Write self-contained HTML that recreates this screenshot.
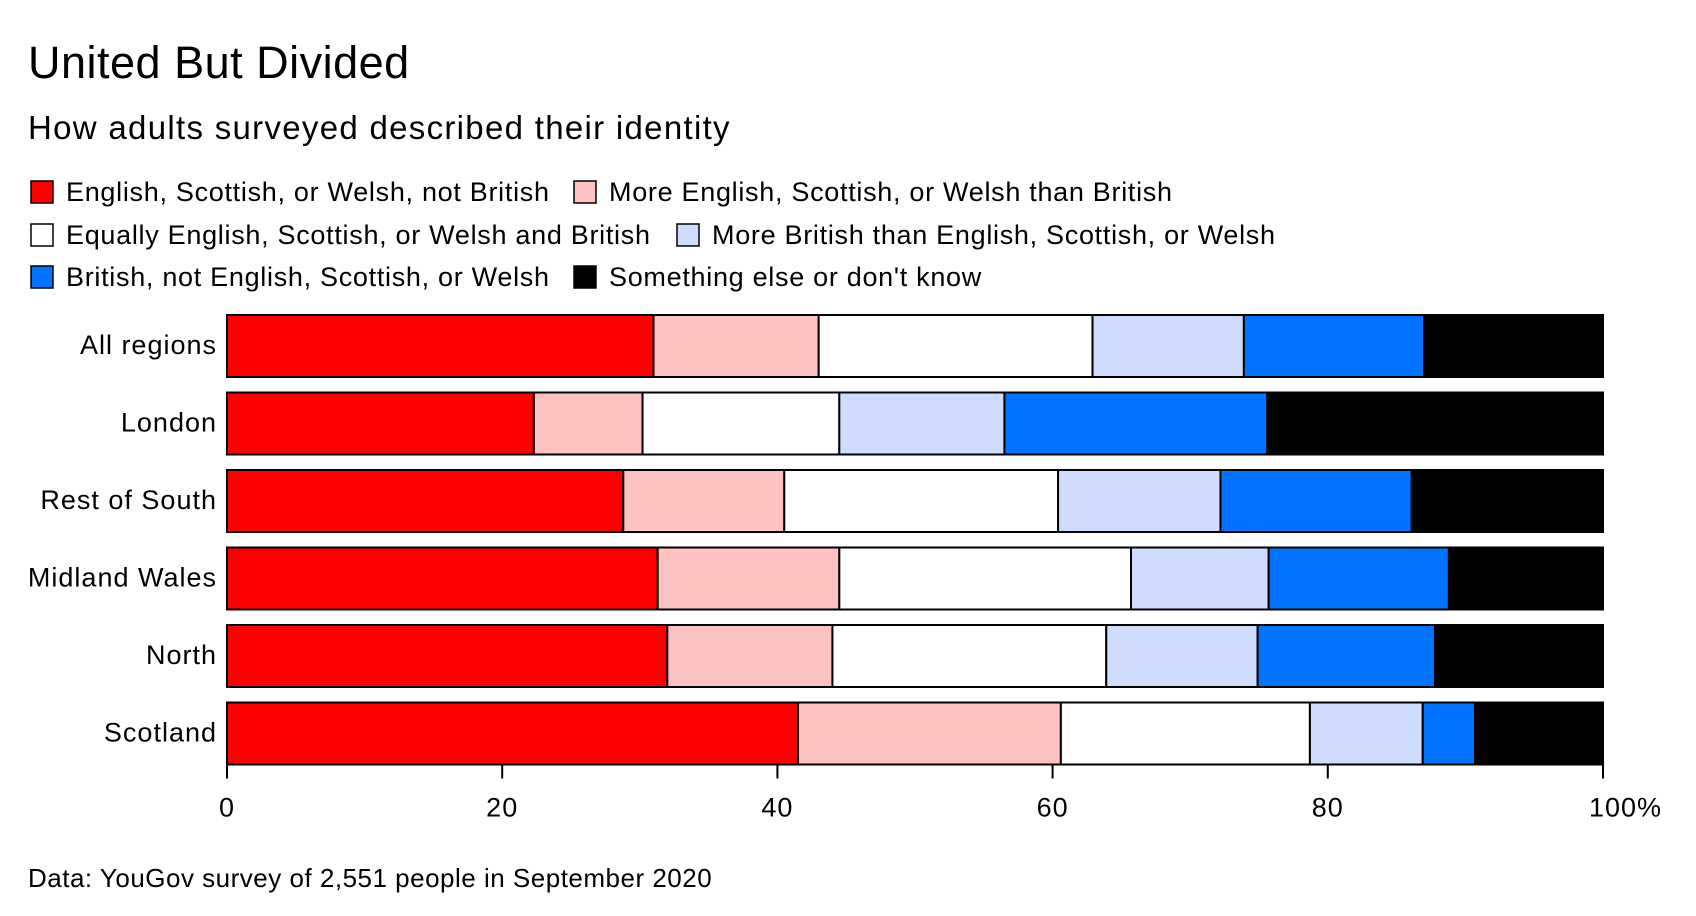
<!DOCTYPE html>
<html><head><meta charset="utf-8"><style>
html,body{margin:0;padding:0;background:#fff;}
body{width:1696px;height:916px;overflow:hidden;font-family:"Liberation Sans",sans-serif;color:#000;position:relative;}
.t{position:absolute;white-space:nowrap;}
</style></head><body>
<div class="t" style="left:28px;top:37px;font-size:45px;letter-spacing:0.5px;">United But Divided</div>
<div class="t" style="left:28px;top:109px;font-size:33px;letter-spacing:1.3px;">How adults surveyed described their identity</div>
<svg id="chart" width="1696" height="916" style="position:absolute;left:0;top:0" xmlns="http://www.w3.org/2000/svg"></svg>
<div class="t" style="left:28px;top:863px;font-size:26px;letter-spacing:0.5px;">Data: YouGov survey of 2,551 people in September 2020</div>
<script>
const categories = ["All regions","London","Rest of South","Midland Wales","North","Scotland"];
const seriesNames = ["English, Scottish, or Welsh, not British","More English, Scottish, or Welsh than British","Equally English, Scottish, or Welsh and British","More British than English, Scottish, or Welsh","British, not English, Scottish, or Welsh","Something else or don't know"];
const notBritish   = [31.0, 22.3, 28.8, 31.3, 32.0, 41.5];
const moreNational = [12.0,  7.9, 11.7, 13.2, 12.0, 19.1];
const equally      = [19.9, 14.3, 19.9, 21.2, 19.9, 18.1];
const moreBritish  = [11.0, 12.0, 11.8, 10.0, 11.0,  8.2];
const britishOnly  = [13.1, 19.1, 13.9, 13.1, 12.9,  3.8];
const other        = [13.0, 24.4, 13.9, 11.2, 12.2,  9.3];
const xTicks = [0,20,40,60,80,100];
const xTickLabels = ["0","20","40","60","80","100%"];

const series = [notBritish, moreNational, equally, moreBritish, britishOnly, other];
const colors = ["#ff0000","#ffc2c2","#ffffff","#d0dcff","#0073ff","#000000"];
const svg = document.getElementById('chart');
const NS = "http://www.w3.org/2000/svg";
const x0 = 227, x1 = 1603;
const xScale = v => x0 + (x1 - x0) * v / 100;
const yTop = 315, pitch = 77.5, barH = 62;
const yScale = i => yTop + i * pitch;
const FF = 'Liberation Sans, sans-serif';

function mk(tag, attrs){const e=document.createElementNS(NS,tag);for(const k in attrs)e.setAttribute(k,attrs[k]);svg.appendChild(e);return e;}

// legend
const legendPos = [[30,192],[573,192],[30,235],[676,235],[30,277],[573,277]];
seriesNames.forEach((n,i)=>{
  const [lx,ly]=legendPos[i];
  const r=mk('rect',{x:lx+1,y:ly-11,width:22,height:22,fill:colors[i],stroke:'#000','stroke-width':1.5});
  
  
  const t=mk('text',{x:lx+36,y:ly+9,'font-size':27,'letter-spacing':0.7,'font-family':FF});
  t.textContent=n;
  
  
});

// bars
categories.forEach((c,i)=>{
  const y=yScale(i);
  let cum=0;
  series.forEach((s,j)=>{
    const a=xScale(cum), b=xScale(cum+s[i]);
    const r=mk('rect',{x:a,y:y,width:b-a,height:barH,fill:colors[j],stroke:'#000','stroke-width':2});
    
    
    cum+=s[i];
  });
  const t=mk('text',{x:217,y:y+barH/2+8,'text-anchor':'end','font-size':27,'letter-spacing':1,'font-family':FF});
  t.textContent=c;
  
  
});

// axis
const axisY = yScale(categories.length-1)+barH;
xTicks.forEach((v,k)=>{
  const x=xScale(v);
  const l=mk('line',{x1:x,x2:x,y1:axisY,y2:axisY+14,stroke:'#000','stroke-width':2});
  
  
  const last=k===xTicks.length-1;
  const t=mk('text',{x:last?x-14:x,y:axisY+52,'text-anchor':last?'start':'middle','font-size':27,'letter-spacing':1,'font-family':FF});
  t.textContent=xTickLabels[k];
  
  
});
</script>
</body></html>
